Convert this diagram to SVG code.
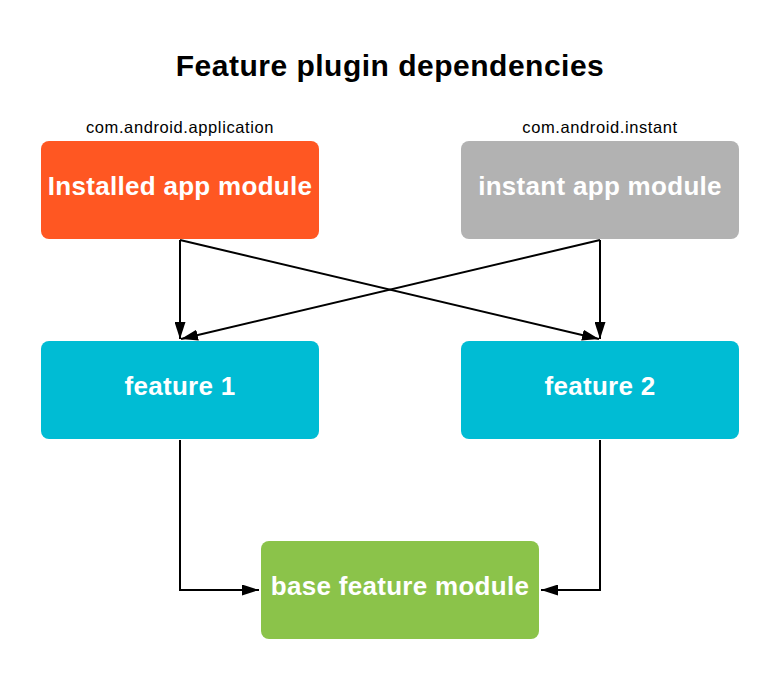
<svg xmlns="http://www.w3.org/2000/svg" width="780" height="680" viewBox="0 0 780 680">
<style>
.box-text{font-family:"Liberation Sans",Arial,sans-serif;font-weight:bold;font-size:26px;letter-spacing:0.3px;fill:#fff;text-anchor:middle}
.lbl{font-family:"Liberation Sans",Arial,sans-serif;font-size:16.5px;letter-spacing:0.6px;fill:#000;text-anchor:middle}
.title{font-family:"Liberation Sans",Arial,sans-serif;font-weight:bold;font-size:30px;letter-spacing:0.5px;fill:#000;text-anchor:middle}
.edge{fill:none;stroke:#000;stroke-width:2}
</style>
<defs>
<marker id="arr" viewBox="0 0 17 11" refX="17" refY="5.5" markerWidth="17" markerHeight="11" markerUnits="userSpaceOnUse" orient="auto">
<path d="M0,0 L17,5.5 L0,11 Z" fill="#000"/>
</marker>
</defs>
<rect width="780" height="680" fill="#fff"/>
<text class="title" x="390" y="76">Feature plugin dependencies</text>
<g id="connectors">
<path class="edge" d="M180,240 L180,339" marker-end="url(#arr)"/>
<path class="edge" d="M180,240 L599,339" marker-end="url(#arr)"/>
<path class="edge" d="M600,240 L181,339" marker-end="url(#arr)"/>
<path class="edge" d="M600,240 L600,339" marker-end="url(#arr)"/>
<path class="edge" d="M180,440 L180,590 L259,590" marker-end="url(#arr)"/>
<path class="edge" d="M600,440 L600,590 L541,590" marker-end="url(#arr)"/>
</g>
<g id="installed">
<text class="lbl" x="180" y="133">com.android.application</text>
<rect x="41" y="141" width="278" height="98" rx="8" fill="#FF5722"/>
<text class="box-text" x="180" y="195">Installed app module</text>
</g>
<g id="instant">
<text class="lbl" x="600" y="133">com.android.instant</text>
<rect x="461" y="141" width="278" height="98" rx="8" fill="#B2B2B2"/>
<text class="box-text" x="600" y="195">instant app module</text>
</g>
<g id="feature1">
<rect x="41" y="341" width="278" height="98" rx="8" fill="#00BCD4"/>
<text class="box-text" x="180" y="395">feature 1</text>
</g>
<g id="feature2">
<rect x="461" y="341" width="278" height="98" rx="8" fill="#00BCD4"/>
<text class="box-text" x="600" y="395">feature 2</text>
</g>
<g id="base">
<rect x="261" y="541" width="278" height="98" rx="8" fill="#8BC34A"/>
<text class="box-text" x="400" y="595">base feature module</text>
</g>
</svg>
